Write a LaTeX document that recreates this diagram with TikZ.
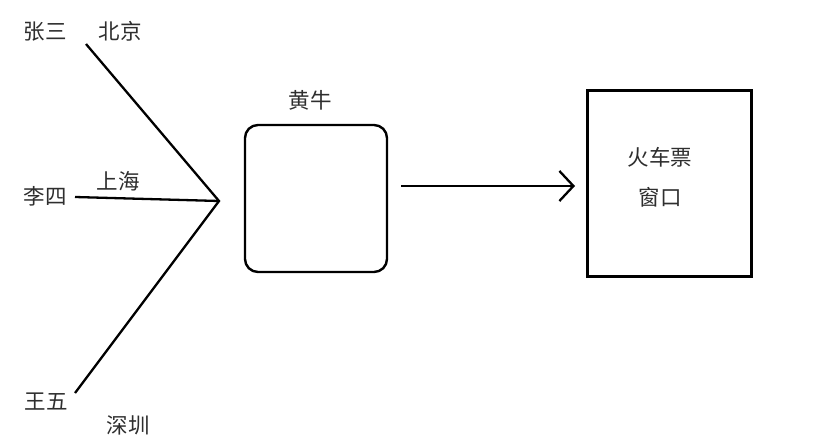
\documentclass[tikz,border=0pt]{standalone}
\usepackage{fontspec}
\setmainfont{Noto Sans CJK SC}
\usetikzlibrary{arrows.meta}
\begin{document}
\begin{tikzpicture}[x=1pt,y=-1pt,
  lbl/.style={font=\fontsize{21.5}{24}\selectfont, text=black!82, inner sep=0pt}]
\useasboundingbox[fill=white] (0,0) rectangle (830,444);
% labels
\node[lbl] (zs) at (45,32) {张三};
\node[lbl] (bj) at (120,31) {北京};
\node[lbl] (ls) at (45,196) {李四};
\node[lbl] (sh) at (118,181) {上海};
\node[lbl] (ww) at (46,402) {王五};
\node[lbl] (sz) at (128,425) {深圳};
\node[lbl] (hn) at (310,100) {黄牛};
% end points
\coordinate (a1) at (86,44);
\coordinate (a2) at (75,197);
\coordinate (a3) at (75,393);
\coordinate (hub) at (219,201);
\draw[line width=2.3pt, line join=miter] (a1) -- (hub) -- (a3);
\draw[line width=2.3pt] (a2) -- (hub);
% scalper box
\node[draw, line width=2.4pt, rounded corners=13pt, minimum width=142pt, minimum height=147pt] (hbox) at (316,198.5) {};
% window box
\node[draw, line width=3pt, minimum width=164pt, minimum height=186pt] (win) at (669,183) {};
\node[lbl] (t1) at (660,157) {火车票};
\node[lbl] (t2) at (660,197) {窗口};
% arrow
\coordinate (as) at (401,186);
\coordinate (ae) at (575,186);
\draw[line width=2.3pt, -{Straight Barb[length=14pt,width=30pt,line width=2.3pt]}] (as) -- (ae);
\end{tikzpicture}
\end{document}
